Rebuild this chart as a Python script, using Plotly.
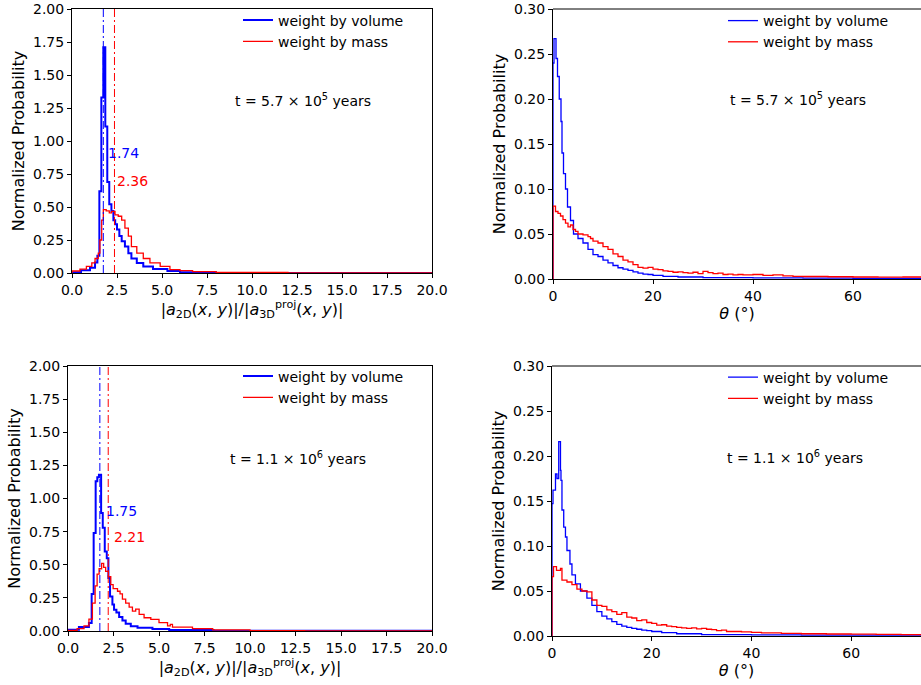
import plotly.graph_objects as go

# ---------------- data (histogram bin edges and normalized probabilities) ----------------
# Top-left: |a2D|/|a3D proj| ratio, t = 5.7e5 yr
tl_vol_edges = [0, 0.5, 1.0, 1.28, 1.41, 1.52, 1.63, 1.74, 1.85, 1.96, 2.07, 2.19, 2.3, 2.4, 2.5,
                2.63, 2.76, 2.94, 3.13, 3.3, 3.6, 3.96, 4.5, 5.3, 6.0, 8.0, 20.0]
tl_vol_vals = [0.005, 0.02, 0.04, 0.08, 0.13, 0.62, 1.33, 1.71, 1.11, 0.69, 0.52, 0.47, 0.40, 0.37,
               0.33, 0.28, 0.24, 0.20, 0.15, 0.11, 0.075, 0.05, 0.03, 0.015, 0.005, 0.0]
tl_mass_edges = [0, 0.44, 0.8, 1.1, 1.28, 1.46, 1.55, 1.65, 1.74, 1.9, 2.07, 2.2, 2.39, 2.57, 2.76,
                 2.94, 3.13, 3.3, 3.6, 3.96, 4.33, 4.9, 5.44, 6.0, 6.7, 8.0, 12.0, 20.0]
tl_mass_vals = [0.015, 0.03, 0.05, 0.076, 0.11, 0.15, 0.25, 0.40, 0.48, 0.47, 0.455, 0.467, 0.44,
                0.43, 0.40, 0.34, 0.28, 0.20, 0.15, 0.11, 0.076, 0.05, 0.025, 0.018, 0.01, 0.004, 0.0]
tl_medians = [1.74, 2.36]

# Bottom-left: t = 1.1e6 yr
bl_vol_edges = [0, 0.6, 1.15, 1.3, 1.41, 1.52, 1.61, 1.7, 1.82, 1.91, 2.02, 2.13, 2.22, 2.31, 2.44,
                2.53, 2.66, 2.81, 2.99, 3.17, 3.45, 3.82, 4.64, 5.56, 8.0, 20.0]
bl_vol_vals = [0.01, 0.03, 0.06, 0.28, 0.74, 1.13, 1.16, 1.18, 0.89, 0.78, 0.60, 0.55, 0.40, 0.26,
               0.20, 0.16, 0.14, 0.105, 0.08, 0.055, 0.035, 0.025, 0.015, 0.007, 0.002]
bl_mass_edges = [0, 0.5, 0.88, 1.15, 1.34, 1.49, 1.6, 1.71, 1.85, 1.96, 2.07, 2.22, 2.35, 2.48, 2.72,
                 2.86, 2.99, 3.17, 3.36, 3.54, 3.72, 3.91, 4.18, 4.55, 5.0, 5.47, 5.62, 5.74, 6.84,
                 7.95, 10.0, 13.0, 20.0]
bl_mass_vals = [0.005, 0.018, 0.038, 0.09, 0.21, 0.34, 0.43, 0.47, 0.51, 0.48, 0.45, 0.41, 0.35,
                0.32, 0.30, 0.28, 0.24, 0.21, 0.18, 0.15, 0.165, 0.125, 0.10, 0.088, 0.063, 0.038,
                0.05, 0.03, 0.018, 0.008, 0.003, 0.0]
bl_medians = [1.75, 2.21]

# Top-right: theta (deg), t = 5.7e5 yr
tr_vol_edges = [0, 0.2, 0.6, 0.9, 1.25, 1.6, 1.8, 2.1, 2.5, 2.9, 3.5, 4.1, 5, 6, 7, 8, 9, 10, 11,
                12, 13, 14, 15, 16, 17, 18, 19, 20, 22, 25, 30, 40, 50, 60, 75]
tr_vol_vals = [0.24, 0.267, 0.245, 0.225, 0.20, 0.175, 0.14, 0.117, 0.10, 0.08, 0.065, 0.05, 0.045,
               0.04, 0.033, 0.027, 0.025, 0.021, 0.018, 0.015, 0.0125, 0.011, 0.0095, 0.008,
               0.0065, 0.0055, 0.005, 0.004, 0.003, 0.0022, 0.0016, 0.0012, 0.001, 0.0008]
tr_mass_edges = [0, 0.5, 1, 1.5, 2, 2.5, 3, 3.5, 4, 4.5, 5, 6, 7, 7.5, 8, 9, 10, 11, 12, 13, 14, 15,
                 16, 17, 18, 19, 20, 21, 22, 23, 24, 25, 26, 27, 28, 29, 30, 31, 32, 33, 34, 35,
                 36, 37, 38, 40, 42, 44, 46, 48, 50, 55, 60, 65, 70, 75]
tr_mass_vals = [0.081, 0.075, 0.073, 0.07, 0.066, 0.062, 0.058, 0.060, 0.055, 0.053, 0.050, 0.049,
                0.047, 0.045, 0.042, 0.040, 0.036, 0.033, 0.028, 0.025, 0.021, 0.019, 0.016, 0.013,
                0.012, 0.013, 0.011, 0.0105, 0.009, 0.0085, 0.0075, 0.008, 0.007, 0.0065, 0.0075,
                0.006, 0.0085, 0.007, 0.006, 0.0065, 0.005, 0.0055, 0.0045, 0.005, 0.0045, 0.005,
                0.004, 0.0045, 0.0035, 0.003, 0.0028, 0.0025, 0.0022, 0.002, 0.0022]

# Bottom-right: theta (deg), t = 1.1e6 yr
br_vol_edges = [0, 0.2, 0.7, 1.0, 1.35, 1.7, 1.8, 2.0, 2.35, 2.7, 3.0, 3.6, 4.0, 4.7, 5.7, 7, 8, 9,
                10, 11, 12, 13, 14, 15, 16, 17, 18, 19, 20, 22, 25, 30, 40, 50, 75]
br_vol_vals = [0.147, 0.162, 0.18, 0.175, 0.216, 0.184, 0.173, 0.14, 0.121, 0.11, 0.095, 0.08,
               0.068, 0.058, 0.05, 0.042, 0.034, 0.027, 0.022, 0.019, 0.016, 0.013, 0.011, 0.0095,
               0.0085, 0.0075, 0.0065, 0.006, 0.005, 0.0038, 0.0025, 0.0016, 0.0012, 0.0009]
br_mass_edges = [0, 0.3, 0.9, 1.7, 2, 3, 4, 5, 6, 7, 8, 9, 10, 11, 12, 13, 14, 15, 16, 17, 18, 19,
                 20, 21, 22, 23, 24, 25, 26, 27, 28, 29, 30, 31, 32, 33, 34, 35, 36, 38, 40, 42,
                 44, 46, 48, 50, 55, 60, 65, 70, 75]
br_mass_vals = [0.066, 0.077, 0.073, 0.075, 0.062, 0.06, 0.057, 0.052, 0.05, 0.049, 0.04, 0.034,
                0.033, 0.029, 0.027, 0.024, 0.026, 0.021, 0.02, 0.017, 0.018, 0.015, 0.014, 0.012,
                0.0125, 0.011, 0.0105, 0.0095, 0.009, 0.0085, 0.009, 0.008, 0.0085, 0.0075, 0.007,
                0.006, 0.0065, 0.005, 0.005, 0.0045, 0.004, 0.0035, 0.0035, 0.003, 0.003, 0.0025,
                0.0022, 0.002, 0.0018, 0.0015]

series_names = ["weight by volume", "weight by mass"]
time_labels = ["t = 5.7 × 10<sup>5</sup> years", "t = 1.1 × 10<sup>6</sup> years"]

# ---------------- figure ----------------
FONT = "DejaVu Sans"
BLUE = "#0000ff"
RED = "#ff0000"
W, H = 921, 685


def px_x(p):
    # screen pixel -> paper fraction
    return p / W


def px_y(p):
    return 1 - p / H


def step_xy(edges, vals):
    x = [edges[0]] + list(edges) + [edges[-1]]
    y = [0] + list(vals) + [vals[-1], 0]
    return x, y


fig = go.Figure()

panels = [
    ("x", "y", "legend", (tl_vol_edges, tl_vol_vals), (tl_mass_edges, tl_mass_vals), 2.0),
    ("x2", "y2", "legend2", (tr_vol_edges, tr_vol_vals), (tr_mass_edges, tr_mass_vals), 1.3),
    ("x3", "y3", "legend3", (bl_vol_edges, bl_vol_vals), (bl_mass_edges, bl_mass_vals), 2.0),
    ("x4", "y4", "legend4", (br_vol_edges, br_vol_vals), (br_mass_edges, br_mass_vals), 1.3),
]

for xa, ya, lg, vol, mass, vw in panels:
    xs, ys = step_xy(*vol)
    fig.add_trace(go.Scatter(x=xs, y=ys, mode="lines", line=dict(color=BLUE, width=vw),
                             line_shape="hv", name=series_names[0], xaxis=xa, yaxis=ya,
                             legend=lg, hoverinfo="skip"))
    xs, ys = step_xy(*mass)
    fig.add_trace(go.Scatter(x=xs, y=ys, mode="lines", line=dict(color=RED, width=1.3),
                             line_shape="hv", name=series_names[1], xaxis=xa, yaxis=ya,
                             legend=lg, hoverinfo="skip"))

tickfont = dict(family=FONT, size=14, color="black")
titlefont = dict(family=FONT, size=16, color="black")
common = dict(showline=True, linecolor="black", linewidth=1, ticks="outside", ticklen=4,
              tickwidth=1, tickcolor="black", showgrid=False, zeroline=False, tickfont=tickfont,
              automargin=False, ticklabeloverflow="allow")

xtitle_left = ("|<i>a</i><sub>2D</sub>(<i>x</i>, <i>y</i>)|/|<i>a</i><sub>3D</sub>"
               "<sup>proj</sup>(<i>x</i>, <i>y</i>)|")
xtitle_right = "<i>θ</i> (°)"
ytitle = "Normalized Probability"

dom = {
    "tl": ([px_x(72), px_x(432)], [px_y(273), px_y(9)]),
    "tr": ([px_x(553), px_x(921)], [px_y(279), px_y(9)]),
    "bl": ([px_x(68), px_x(432)], [px_y(631), px_y(366)]),
    "br": ([px_x(552), px_x(921)], [px_y(636), px_y(366)]),
}

fig.update_layout(
    width=W, height=H, margin=dict(l=0, r=0, t=0, b=0, autoexpand=False),
    paper_bgcolor="white", plot_bgcolor="white",
    font=dict(family=FONT, size=14, color="black"),
    xaxis=dict(domain=dom["tl"][0], anchor="y", range=[0, 20], dtick=2.5, tickformat=".1f",
               mirror=True, title=dict(text=xtitle_left, font=titlefont, standoff=4), **common),
    yaxis=dict(domain=dom["tl"][1], anchor="x", range=[0, 2], dtick=0.25, tickformat=".2f",
               mirror=True, title=dict(text=ytitle, font=titlefont, standoff=4), **common),
    xaxis2=dict(domain=dom["tr"][0], anchor="y2", range=[0, 73.6], dtick=20,
                title=dict(text=xtitle_right, font=titlefont, standoff=4), **common),
    yaxis2=dict(domain=dom["tr"][1], anchor="x2", range=[0, 0.3], dtick=0.05, tickformat=".2f",
                title=dict(text=ytitle, font=titlefont, standoff=4), **common),
    xaxis3=dict(domain=dom["bl"][0], anchor="y3", range=[0, 20], dtick=2.5, tickformat=".1f",
                mirror=True, title=dict(text=xtitle_left, font=titlefont, standoff=4), **common),
    yaxis3=dict(domain=dom["bl"][1], anchor="x3", range=[0, 2], dtick=0.25, tickformat=".2f",
                mirror=True, title=dict(text=ytitle, font=titlefont, standoff=4), **common),
    xaxis4=dict(domain=dom["br"][0], anchor="y4", range=[0, 74.0], dtick=20,
                title=dict(text=xtitle_right, font=titlefont, standoff=4), **common),
    yaxis4=dict(domain=dom["br"][1], anchor="x4", range=[0, 0.3], dtick=0.05, tickformat=".2f",
                title=dict(text=ytitle, font=titlefont, standoff=4), **common),
)

legend_style = dict(bgcolor="rgba(0,0,0,0)", borderwidth=0, font=dict(family=FONT, size=14),
                    xanchor="left", yanchor="top", tracegroupgap=0, itemwidth=30)
fig.update_layout(
    legend=dict(x=px_x(238), y=px_y(4.5), **legend_style),
    legend2=dict(x=px_x(723), y=px_y(5), **legend_style),
    legend3=dict(x=px_x(238), y=px_y(360.5), **legend_style),
    legend4=dict(x=px_x(723), y=px_y(361.5), **legend_style),
)

# top border of the right-hand panels
for xa, ya in [("x2", "y2"), ("x4", "y4")]:
    fig.add_shape(type="line", xref=f"{xa} domain", yref=f"{ya} domain", x0=0, x1=1, y0=1, y1=1,
                  line=dict(color="black", width=1))

DASHDOT = "8px,3px,2px,3px"
for (xa, ya), meds, label_pos in [
    (("x", "y"), tl_medians, [(1.88, 0.91), (2.4, 0.70)]),
    (("x3", "y3"), bl_medians, [(1.96, 0.905), (2.41, 0.71)]),
]:
    for med, col, (lx, ly) in zip(meds, [BLUE, RED], label_pos):
        fig.add_shape(type="line", xref=xa, yref=f"{ya} domain", x0=med, x1=med, y0=0, y1=1,
                      line=dict(color=col, width=1, dash=DASHDOT))
        fig.add_annotation(x=lx, y=ly, xref=xa, yref=ya, text=f"{med:.2f}", showarrow=False,
                           xanchor="left", yanchor="middle",
                           font=dict(family=FONT, size=14, color=col))

for (xa, ya), (tx, ty), txt in [
    (("x", "y"), (8.95, 1.31), time_labels[0]),
    (("x2", "y2"), (35.0, 0.20), time_labels[0]),
    (("x3", "y3"), (8.8, 1.306), time_labels[1]),
    (("x4", "y4"), (34.7, 0.199), time_labels[1]),
]:
    fig.add_annotation(x=tx, y=ty, xref=xa, yref=ya, text=txt, showarrow=False,
                       xanchor="left", yanchor="middle",
                       font=dict(family=FONT, size=14, color="black"))

fig.write_html("out.html", config={"displayModeBar": False},
               post_script="document.body.style.margin='0px';")
